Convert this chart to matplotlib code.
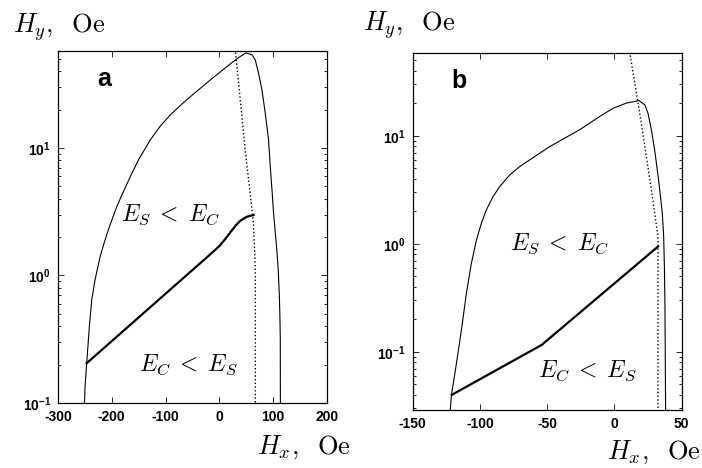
import matplotlib.pyplot as plt

plt.rcParams['font.family'] = ['Liberation Serif', 'DejaVu Serif']
plt.rcParams['mathtext.fontset'] = 'custom'
plt.rcParams['mathtext.rm'] = 'Liberation Serif'
plt.rcParams['mathtext.it'] = 'Liberation Serif:italic'
plt.rcParams['mathtext.bf'] = 'Liberation Sans:bold'

# ---- panel a: phase boundaries, Hx and Hy in Oe ----
a_outer_hx = [-251, -249.7, -246.6, -241.7, -237.2, -231.1, -221.8, -212.5, -203.2, -190.7,
              -178.4, -162.8, -150, -128.7, -110, -91.4, -69.6, -48, -16.9, 14.2, 32.8,
              48.2, 51, 60.7, 66.9, 73, 79.3, 85.5, 91.6, 94.8, 98, 100.9, 104, 107,
              109.5, 111.3, 112.6, 113.4, 113.6]
a_outer_hy = [0.09, 0.134, 0.205, 0.396, 0.643, 0.923, 1.40, 1.90, 2.49, 3.47,
              4.54, 6.3, 8.11, 11.5, 14.8, 18.1, 22.1, 26.5, 34.1, 43.5, 50.1,
              55.3, 55.5, 53.9, 49, 38.5, 28.5, 18.7, 11.6, 7.13, 4.68, 3.07, 2.2, 1.58,
              1.12, 0.76, 0.5, 0.32, 0.09]
a_dot_hx = [29.6, 48.2, 63.1, 66, 67, 67]
a_dot_hy = [60, 9.6, 2.7, 1.5, 1.0, 0.09]
a_thick_hx = [-246.6, -14, 0, 11, 23.5, 31, 39, 51.4, 63.7]
a_thick_hy = [0.205, 1.50, 1.70, 1.93, 2.26, 2.48, 2.69, 2.89, 2.98]
a_xticks = [-300, -200, -100, 0, 100, 200]

# ---- panel b ----
b_outer_hx = [-122.5, -121.2, -117.5, -113.8, -110.1, -106.4, -102.6, -98.9, -95.2, -90.3,
              -85.3, -77.9, -70.4, -59.3, -48.1, -37, -25.8, -11, -1, 8.9, 18.3,
              22.5, 24.9, 27.5, 29.9, 31.9, 33.7, 35.6, 36.6, 37.2, 37.6, 38.1]
b_outer_hy = [0.025, 0.040, 0.0785, 0.16, 0.35, 0.662, 1.09, 1.56, 2.07, 2.74,
              3.39, 4.35, 5.2, 6.43, 7.95, 9.52, 11.4, 15.1, 18, 20.1, 21.2,
              19.4, 16.3, 11.4, 7.4, 4.84, 3.16, 1.92, 1.2, 0.6, 0.25, 0.025]
b_dot_hx = [11.3, 20, 27.5, 32.4, 32.4]
b_dot_hy = [60, 13.1, 3.16, 1.17, 0.025]
b_thick_hx = [-121, -54.1, 32.4]
b_thick_hy = [0.040, 0.116, 0.944]
b_xticks = [-150, -100, -50, 0, 50]

yticks = [0.1, 1, 10]
ytick_labels = [r'$\mathbf{10^{-1}}$', r'$\mathbf{10^{0}}$', r'$\mathbf{10^{1}}$']

fig = plt.figure(figsize=(7.02, 4.68), dpi=100)
ax_a = fig.add_axes([0.0826, 0.139, 0.383, 0.752])
ax_b = fig.add_axes([0.588, 0.124, 0.383, 0.763])

panels = [
    (ax_a, a_outer_hx, a_outer_hy, a_dot_hx, a_dot_hy, a_thick_hx, a_thick_hy,
     a_xticks, (-300, 200), (0.1, 57.6), 'a'),
    (ax_b, b_outer_hx, b_outer_hy, b_dot_hx, b_dot_hy, b_thick_hx, b_thick_hy,
     b_xticks, (-150, 50), (0.029, 58.6), 'b'),
]

for ax, ohx, ohy, dhx, dhy, thx, thy, xt, xl, yl, tag in panels:
    ax.plot(ohx, ohy, color='black', lw=0.8)
    ax.plot(dhx, dhy, color='black', lw=1.0, ls=':')
    ax.plot(thx, thy, color='black', lw=1.6)
    ax.set_yscale('log')
    ax.set_xlim(*xl)
    ax.set_ylim(*yl)
    ax.set_xticks(xt, labels=[str(v) for v in xt],
                  fontfamily='Liberation Sans', fontweight='bold', fontsize=10)
    ax.set_yticks(yticks, labels=ytick_labels, fontsize=10)
    ax.tick_params(which='both', direction='in', top=True, right=True, width=0.6)
    ax.tick_params(which='major', length=4, pad=5)
    ax.tick_params(which='minor', length=2, labelleft=False)
    for s in ax.spines.values():
        s.set_linewidth(0.9)
    ax.text(0.17, 0.92, tag, transform=ax.transAxes, fontfamily='Liberation Sans',
            fontweight='bold', fontsize=18, ha='center', va='center')

# region labels in Computer Modern
region_kw = dict(fontsize=17, ha='center', va='center', math_fontfamily='cm')
ax_a.text(-91, 3.0, r'$E_S\;<\;E_C$', **region_kw)
ax_a.text(-58, 0.20, r'$E_C\;<\;E_S$', **region_kw)
ax_b.text(-40.7, 1.0, r'$E_S\;<\;E_C$', **region_kw)
ax_b.text(-19.7, 0.067, r'$E_C\;<\;E_S$', **region_kw)

# axis titles sit outside the frames
title_kw = dict(fontsize=19, ha='left', va='center', math_fontfamily='cm')
fig.text(0.0185, 0.942, r'$H_y,\ \;\mathrm{Oe}$', **title_kw)
fig.text(0.366, 0.045, r'$H_x,\ \;\mathrm{Oe}$', **title_kw)
fig.text(0.517, 0.946, r'$H_y,\ \;\mathrm{Oe}$', **title_kw)
fig.text(0.865, 0.034, r'$H_x,\ \;\mathrm{Oe}$', **title_kw)

plt.savefig('out.png', dpi=100)
